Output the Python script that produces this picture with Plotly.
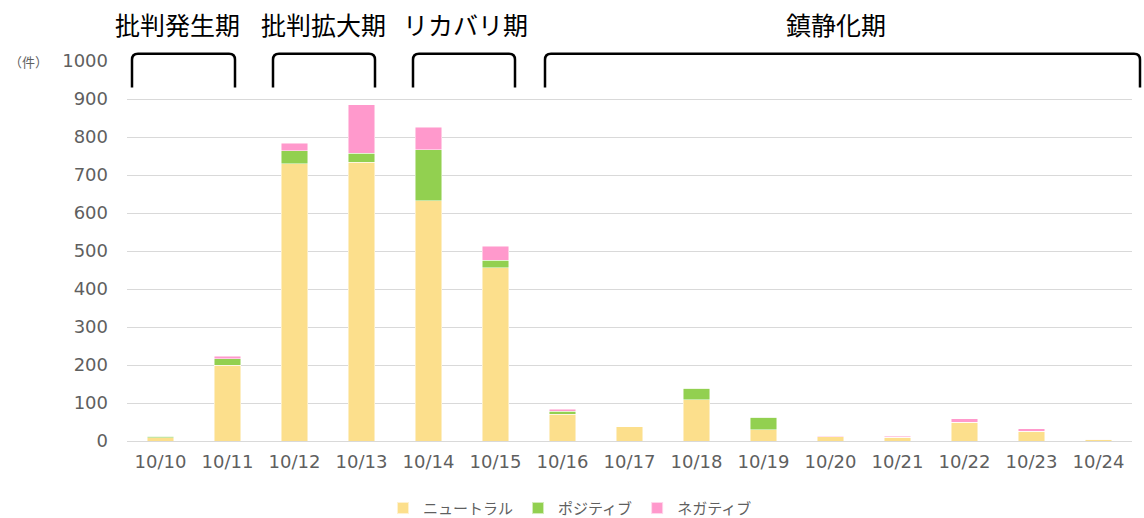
import plotly.graph_objects as go

dates = ["10/10", "10/11", "10/12", "10/13", "10/14", "10/15", "10/16", "10/17",
         "10/18", "10/19", "10/20", "10/21", "10/22", "10/23", "10/24"]
neutral = [8, 200, 729, 733, 632, 456, 71, 38, 108, 30, 11, 10, 50, 26, 4]
positive = [5, 16, 35, 24, 134, 20, 7, 0, 31, 33, 0, 0, 0, 0, 0]
negative = [0, 7, 20, 128, 60, 36, 6, 0, 0, 0, 1, 2, 8, 6, 0]
series_names = ["ニュートラル", "ポジティブ", "ネガティブ"]
colors = ["#FCDF8C", "#92D050", "#FF99CC"]
y_ticks = [0, 100, 200, 300, 400, 500, 600, 700, 800, 900, 1000]
periods = ["批判発生期", "批判拡大期", "リカバリ期", "鎮静化期"]

FONT = "Noto Sans CJK JP, Meiryo, sans-serif"
NUMFONT = "DejaVu Sans, Verdana, sans-serif"
GRAY = "#5F5F5F"

fig = go.Figure()
for name, vals, col in zip(series_names, [neutral, positive, negative], colors):
    fig.add_trace(go.Bar(
        x=dates, y=vals, name=name,
        marker=dict(color=col, line=dict(color="rgba(255,255,255,0.6)", width=0.8)),
        width=0.4,
    ))

# layout geometry (paper coords)
brace_px = [(132, 235), (273, 375), (413, 515), (545, 1140)]
label_px = [177, 323, 465, 836]
L, R, T, B = 127, 1132, 60.7, 440.7
W, H = R - L, B - T


def px2x(p):
    return (p - L) / W


def py2y(p):
    return (B - p) / H


yt = py2y(53.5)
yb = py2y(87.3)
rx = 6 / W
ry = 6 / H
shapes = []
for (a, b) in brace_px:
    x0, x1 = px2x(a), px2x(b)
    path = (f"M {x0},{yb} L {x0},{yt - ry} Q {x0},{yt} {x0 + rx},{yt} "
            f"L {x1 - rx},{yt} Q {x1},{yt} {x1},{yt - ry} L {x1},{yb}")
    shapes.append(dict(type="path", xref="paper", yref="paper", path=path,
                       line=dict(color="black", width=2.5)))

annotations = []
for txt, c in zip(periods, label_px):
    annotations.append(dict(text=txt, x=px2x(c), y=py2y(24), xref="paper", yref="paper",
                            showarrow=False, xanchor="center", yanchor="middle",
                            font=dict(size=25, color="black", family=FONT)))
annotations.append(dict(text="（件）", x=px2x(28), y=py2y(61.5), xref="paper", yref="paper",
                        showarrow=False, xanchor="center", yanchor="middle",
                        font=dict(size=13, color=GRAY, family=FONT)))

fig.update_layout(
    width=1144, height=518,
    barmode="stack",
    plot_bgcolor="white", paper_bgcolor="white",
    margin=dict(l=L, r=1144 - R, t=T, b=518 - B, autoexpand=False),
    font=dict(family=FONT, color=GRAY),
    shapes=shapes,
    annotations=annotations,
    legend=dict(orientation="h", x=px2x(570), xanchor="center", y=py2y(508), yanchor="middle",
                font=dict(size=15, color=GRAY, family=FONT), traceorder="normal",
                itemsizing="constant"),
    xaxis=dict(type="category", tickfont=dict(size=18, color=GRAY, family=NUMFONT),
               showgrid=False, showline=False, ticks="", ticklabelstandoff=8),
    yaxis=dict(range=[0, 1000], tickvals=y_ticks, ticktext=[str(v) for v in y_ticks],
               tickfont=dict(size=18, color=GRAY, family=NUMFONT),
               showgrid=True, gridcolor="#D9D9D9", gridwidth=1.3,
               zeroline=True, zerolinecolor="#D9D9D9", zerolinewidth=1.3,
               showline=False, ticks="", ticklabelstandoff=18),
)

fig.write_html("out.html", config={"displayModeBar": False},
               post_script="document.body.style.margin='0';document.body.style.overflow='hidden';")
